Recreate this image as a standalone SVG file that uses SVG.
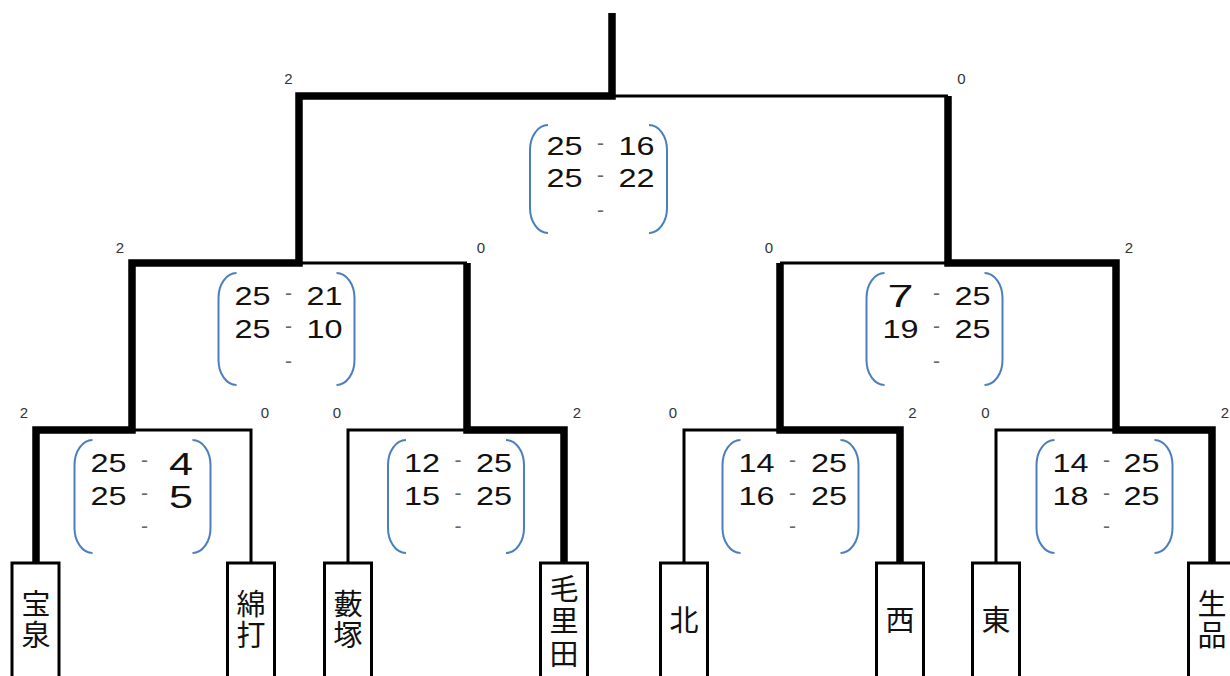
<svg xmlns="http://www.w3.org/2000/svg" width="1230" height="676" viewBox="0 0 1230 676">
<defs>
<style>
.thin{fill:none;stroke:#000;stroke-width:3;stroke-linejoin:miter}
.thick{fill:none;stroke:#000;stroke-width:7.5;stroke-linejoin:miter;stroke-linecap:butt}
.box{fill:#fff;stroke:#000;stroke-width:3}
.team{font-family:"Noto Sans CJK JP","Noto Sans CJK SC",sans-serif;font-size:29px;fill:#111;writing-mode:vertical-rl;text-anchor:start}
.sc{font-family:"Liberation Sans",Arial,sans-serif;font-size:26px;fill:#111;text-anchor:middle}
.big{font-family:"Liberation Sans",Arial,sans-serif;font-size:31px;fill:#111;text-anchor:middle}
.dash{font-family:"Liberation Sans",Arial,sans-serif;font-size:21px;fill:#666;text-anchor:middle}
.lbl{font-family:"Liberation Sans",Arial,sans-serif;font-size:15px;fill:#333;text-anchor:middle}
.par{fill:none;stroke:#4a7ebf;stroke-width:2}
</style>
</defs>
<rect width="1230" height="676" fill="#fff"/>
<g id="connectors">
<polyline class="thin" points="251,563 251,430 132,430"/>
<polyline class="thin" points="348,563 348,430 467,430"/>
<polyline class="thin" points="684,563 684,430 780,430"/>
<polyline class="thin" points="996,563 996,430 1116,430"/>
<polyline class="thin" points="467,263 299,263"/>
<polyline class="thin" points="780,263 948,263"/>
<polyline class="thin" points="948,96 612,96"/>
<polyline class="thick" points="36,563 36,430 132,430 132,263 299,263 299,96 612,96 612,13"/>
<polyline class="thick" points="564,563 564,430 467,430 467,263"/>
<polyline class="thick" points="900,563 900,430 780,430 780,263"/>
<polyline class="thick" points="1212,563 1212,430 1116,430 1116,263 948,263 948,96"/>
</g>
<g id="team-houzen"><rect class="box" x="12" y="563" width="47" height="130"/><text class="team" x="36" y="589" letter-spacing="2.5">宝泉</text></g>
<g id="team-watauchi"><rect class="box" x="227.5" y="563" width="47" height="130"/><text class="team" x="251" y="589" letter-spacing="2.5">綿打</text></g>
<g id="team-yabuzuka"><rect class="box" x="324.5" y="563" width="47" height="130"/><text class="team" x="348" y="589" letter-spacing="2.5">藪塚</text></g>
<g id="team-moriya"><rect class="box" x="540.5" y="563" width="47" height="130"/><text class="team" x="564" y="574" letter-spacing="3.5">毛里田</text></g>
<g id="team-kita"><rect class="box" x="660.5" y="563" width="47" height="130"/><text class="team" x="684" y="605.5">北</text></g>
<g id="team-nishi"><rect class="box" x="876.5" y="563" width="47" height="130"/><text class="team" x="900" y="605.5">西</text></g>
<g id="team-higashi"><rect class="box" x="972.5" y="563" width="47" height="130"/><text class="team" x="996" y="605.5">東</text></g>
<g id="team-ikushina"><rect class="box" x="1188.5" y="563" width="47" height="130"/><text class="team" x="1212" y="589" letter-spacing="2.5">生品</text></g>

<g id="match-final">
<path class="par" d="M548,125 A18,25 0 0 0 530,150 L530,208 A18,25 0 0 0 548,233"/>
<path class="par" d="M649,125 A18,25 0 0 1 667,150 L667,208 A18,25 0 0 1 649,233"/>
<text class="sc" x="564.5" y="155" textLength="36" lengthAdjust="spacingAndGlyphs">25</text>
<text class="dash" x="600.5" y="150">-</text>
<text class="sc" x="636.5" y="155" textLength="36" lengthAdjust="spacingAndGlyphs">16</text>
<text class="sc" x="564.5" y="187" textLength="36" lengthAdjust="spacingAndGlyphs">25</text>
<text class="dash" x="600.5" y="182">-</text>
<text class="sc" x="636.5" y="187" textLength="36" lengthAdjust="spacingAndGlyphs">22</text>
<text class="dash" x="600.5" y="216.5">-</text>
<text class="lbl" x="288.5" y="84">2</text>
<text class="lbl" x="961.5" y="84">0</text>
</g>

<g id="match-semi-left">
<path class="par" d="M236.5,273 A18,25 0 0 0 218.5,298 L218.5,360 A18,25 0 0 0 236.5,385"/>
<path class="par" d="M336.5,273 A18,25 0 0 1 354.5,298 L354.5,360 A18,25 0 0 1 336.5,385"/>
<text class="sc" x="252.5" y="305" textLength="36" lengthAdjust="spacingAndGlyphs">25</text>
<text class="dash" x="288.5" y="300">-</text>
<text class="sc" x="324.5" y="305" textLength="36" lengthAdjust="spacingAndGlyphs">21</text>
<text class="sc" x="252.5" y="338" textLength="36" lengthAdjust="spacingAndGlyphs">25</text>
<text class="dash" x="288.5" y="333">-</text>
<text class="sc" x="324.5" y="338" textLength="36" lengthAdjust="spacingAndGlyphs">10</text>
<text class="dash" x="288.5" y="367.5">-</text>
<text class="lbl" x="120" y="252.5">2</text>
<text class="lbl" x="481" y="252.5">0</text>
</g>

<g id="match-semi-right">
<path class="par" d="M884.5,273 A18,25 0 0 0 866.5,298 L866.5,360 A18,25 0 0 0 884.5,385"/>
<path class="par" d="M984.5,273 A18,25 0 0 1 1002.5,298 L1002.5,360 A18,25 0 0 1 984.5,385"/>
<text class="big" x="900.5" y="307" textLength="26" lengthAdjust="spacingAndGlyphs">7</text>
<text class="dash" x="936.5" y="300">-</text>
<text class="sc" x="972.5" y="305" textLength="36" lengthAdjust="spacingAndGlyphs">25</text>
<text class="sc" x="900.5" y="338" textLength="36" lengthAdjust="spacingAndGlyphs">19</text>
<text class="dash" x="936.5" y="333">-</text>
<text class="sc" x="972.5" y="338" textLength="36" lengthAdjust="spacingAndGlyphs">25</text>
<text class="dash" x="936.5" y="367.5">-</text>
<text class="lbl" x="769" y="252.5">0</text>
<text class="lbl" x="1129" y="252.5">2</text>
</g>

<g id="match-q1">
<path class="par" d="M92.5,440 A18,25 0 0 0 74.5,465 L74.5,528 A18,25 0 0 0 92.5,553"/>
<path class="par" d="M192.5,440 A18,25 0 0 1 210.5,465 L210.5,528 A18,25 0 0 1 192.5,553"/>
<text class="sc" x="108.5" y="472" textLength="36" lengthAdjust="spacingAndGlyphs">25</text>
<text class="dash" x="144.5" y="467">-</text>
<text class="big" x="181" y="475" textLength="24" lengthAdjust="spacingAndGlyphs">4</text>
<text class="sc" x="108.5" y="505" textLength="36" lengthAdjust="spacingAndGlyphs">25</text>
<text class="dash" x="144.5" y="500">-</text>
<text class="big" x="181" y="508" textLength="24" lengthAdjust="spacingAndGlyphs">5</text>
<text class="dash" x="144.5" y="532.5">-</text>
<text class="lbl" x="24" y="418">2</text>
<text class="lbl" x="265" y="418">0</text>
</g>

<g id="match-q2">
<path class="par" d="M406,440 A18,25 0 0 0 388,465 L388,528 A18,25 0 0 0 406,553"/>
<path class="par" d="M506,440 A18,25 0 0 1 524,465 L524,528 A18,25 0 0 1 506,553"/>
<text class="sc" x="422" y="472" textLength="36" lengthAdjust="spacingAndGlyphs">12</text>
<text class="dash" x="458" y="467">-</text>
<text class="sc" x="494" y="472" textLength="36" lengthAdjust="spacingAndGlyphs">25</text>
<text class="sc" x="422" y="505" textLength="36" lengthAdjust="spacingAndGlyphs">15</text>
<text class="dash" x="458" y="500">-</text>
<text class="sc" x="494" y="505" textLength="36" lengthAdjust="spacingAndGlyphs">25</text>
<text class="dash" x="458" y="532.5">-</text>
<text class="lbl" x="337" y="418">0</text>
<text class="lbl" x="577" y="418">2</text>
</g>

<g id="match-q3">
<path class="par" d="M740.5,440 A18,25 0 0 0 722.5,465 L722.5,528 A18,25 0 0 0 740.5,553"/>
<path class="par" d="M840.5,440 A18,25 0 0 1 858.5,465 L858.5,528 A18,25 0 0 1 840.5,553"/>
<text class="sc" x="756.5" y="472" textLength="36" lengthAdjust="spacingAndGlyphs">14</text>
<text class="dash" x="792.5" y="467">-</text>
<text class="sc" x="829" y="472" textLength="36" lengthAdjust="spacingAndGlyphs">25</text>
<text class="sc" x="756.5" y="505" textLength="36" lengthAdjust="spacingAndGlyphs">16</text>
<text class="dash" x="792.5" y="500">-</text>
<text class="sc" x="829" y="505" textLength="36" lengthAdjust="spacingAndGlyphs">25</text>
<text class="dash" x="792.5" y="532.5">-</text>
<text class="lbl" x="673" y="418">0</text>
<text class="lbl" x="912.5" y="418">2</text>
</g>

<g id="match-q4">
<path class="par" d="M1054.5,440 A18,25 0 0 0 1036.5,465 L1036.5,528 A18,25 0 0 0 1054.5,553"/>
<path class="par" d="M1154.5,440 A18,25 0 0 1 1172.5,465 L1172.5,528 A18,25 0 0 1 1154.5,553"/>
<text class="sc" x="1070.5" y="472" textLength="36" lengthAdjust="spacingAndGlyphs">14</text>
<text class="dash" x="1106.5" y="467">-</text>
<text class="sc" x="1141.5" y="472" textLength="36" lengthAdjust="spacingAndGlyphs">25</text>
<text class="sc" x="1070.5" y="505" textLength="36" lengthAdjust="spacingAndGlyphs">18</text>
<text class="dash" x="1106.5" y="500">-</text>
<text class="sc" x="1141.5" y="505" textLength="36" lengthAdjust="spacingAndGlyphs">25</text>
<text class="dash" x="1106.5" y="532.5">-</text>
<text class="lbl" x="985.5" y="418">0</text>
<text class="lbl" x="1225" y="418">2</text>
</g>
</svg>
